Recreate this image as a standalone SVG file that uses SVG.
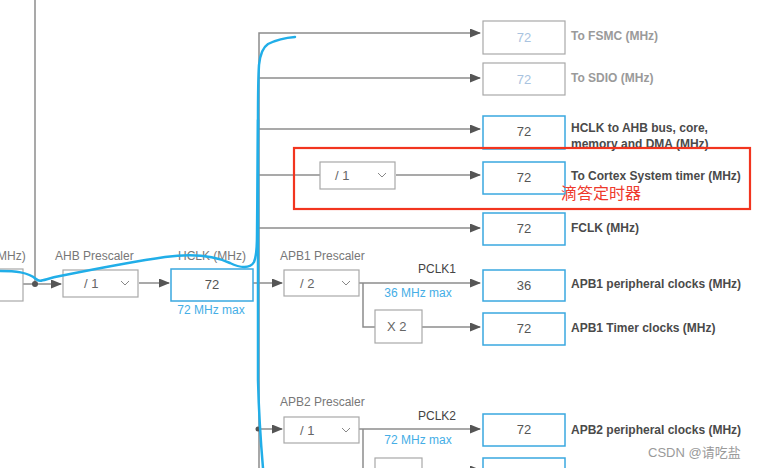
<svg xmlns="http://www.w3.org/2000/svg" width="763" height="468" viewBox="0 0 763 468">
<style>
.ln{fill:none;stroke:#8c8c8c;stroke-width:1.5}
.bx{fill:#fff;stroke:#a8a8a8;stroke-width:1.2}
.bb{fill:#fff;stroke:#3aa8e0;stroke-width:1.5}
.val{font-family:"Liberation Sans",Arial,sans-serif;font-size:13px;fill:#555;text-anchor:middle}
.dim{fill:#a9c3e0}
.lbl{font-family:"Liberation Sans",Arial,sans-serif;font-size:12px;font-weight:bold;fill:#4a4a4a}
.lg{fill:#9a9a9a}
.pre{font-family:"Liberation Sans",Arial,sans-serif;font-size:12px;fill:#777}
.sel{font-family:"Liberation Sans",Arial,sans-serif;font-size:13px;fill:#666}
.blue{font-family:"Liberation Sans",Arial,sans-serif;font-size:12px;fill:#45aee6;text-anchor:middle}
.pc{font-family:"Liberation Sans",Arial,sans-serif;font-size:12px;fill:#444}
.chev{fill:none;stroke:#888;stroke-width:1}
</style>
<defs>
<marker id="ah" markerWidth="11" markerHeight="9" refX="10" refY="4.5" orient="auto" markerUnits="userSpaceOnUse">
<path d="M0,0 L11,4.5 L0,9 z" fill="#555"/>
</marker>
</defs>
<g id="connectors">
<line class="ln" x1="35" y1="0" x2="35" y2="284"/>
<line class="ln" x1="23" y1="284" x2="61" y2="284" marker-end="url(#ah)"/>
<circle cx="35" cy="284" r="3" fill="#555"/>
<line class="ln" x1="139" y1="283" x2="169" y2="283" marker-end="url(#ah)"/>
<line class="ln" x1="253" y1="283" x2="282" y2="283" marker-end="url(#ah)"/>
<polyline class="ln" points="259,468 259,33 480,33" marker-end="url(#ah)"/>
<line class="ln" x1="259" y1="78" x2="480" y2="78" marker-end="url(#ah)"/>
<line class="ln" x1="259" y1="129" x2="480" y2="129" marker-end="url(#ah)"/>
<line class="ln" x1="259" y1="175" x2="320" y2="175"/>
<line class="ln" x1="396" y1="175" x2="480" y2="175" marker-end="url(#ah)"/>
<line class="ln" x1="259" y1="228" x2="480" y2="228" marker-end="url(#ah)"/>
<line class="ln" x1="359" y1="283" x2="480" y2="283" marker-end="url(#ah)"/>
<polyline class="ln" points="363,283 363,327 375,327"/>
<line class="ln" x1="422" y1="327" x2="480" y2="327" marker-end="url(#ah)"/>
<line class="ln" x1="259" y1="429" x2="282" y2="429" marker-end="url(#ah)"/>
<circle cx="258" cy="429" r="2.5" fill="#555"/>
<line class="ln" x1="359" y1="429" x2="480" y2="429" marker-end="url(#ah)"/>
<polyline class="ln" points="363,429 363,468"/>
<line class="ln" x1="422" y1="470" x2="480" y2="470" marker-end="url(#ah)"/>
</g>
<g id="input">
<rect class="bx" x="-5" y="269" width="28" height="32"/>
<text class="pre" x="-3" y="260">MHz)</text>
</g>
<g id="ahb-prescaler">
<text class="pre" x="55" y="260">AHB Prescaler</text>
<rect class="bx" x="63" y="270" width="75" height="27"/>
<text class="sel" x="84" y="288">/ 1</text>
<polyline class="chev" points="121,281 125,285 129,281"/>
</g>
<g id="hclk">
<text class="pre" x="178" y="260">HCLK (MHz)</text>
<rect class="bb" x="171" y="269" width="82" height="32"/>
<text class="val" x="212" y="289">72</text>
<text class="blue" x="211" y="314">72 MHz max</text>
</g>
<g id="fsmc">
<rect class="bx" x="483" y="21" width="82" height="33"/>
<text class="val dim" x="524" y="42">72</text>
<text class="lbl lg" x="571" y="40">To FSMC (MHz)</text>
</g>
<g id="sdio">
<rect class="bx" x="483" y="63" width="82" height="32"/>
<text class="val dim" x="524" y="84">72</text>
<text class="lbl lg" x="571" y="82">To SDIO (MHz)</text>
</g>
<g id="hclk-ahb">
<rect class="bb" x="483" y="116" width="82" height="33"/>
<text class="val" x="524" y="136">72</text>
<text class="lbl" x="571" y="132">HCLK to AHB bus, core,</text>
<text class="lbl" x="571" y="148">memory and DMA (MHz)</text>
</g>
<g id="cortex">
<rect class="bx" x="320" y="162" width="75" height="27"/>
<text class="sel" x="335" y="180">/ 1</text>
<polyline class="chev" points="378,173 382,177 386,173"/>
<rect class="bb" x="483" y="162" width="82" height="32"/>
<text class="val" x="524" y="182">72</text>
<text class="lbl" x="571" y="180">To Cortex System timer (MHz)</text>
<text x="561" y="199" font-family="'Noto Sans CJK SC',sans-serif" font-size="16" fill="#ee3a2c">滴答定时器</text>
<rect x="294" y="148" width="456" height="61" fill="none" stroke="#f2351f" stroke-width="2.2"/>
</g>
<g id="fclk">
<rect class="bb" x="483" y="213" width="82" height="32"/>
<text class="val" x="524" y="233">72</text>
<text class="lbl" x="571" y="232">FCLK (MHz)</text>
</g>
<g id="apb1">
<text class="pre" x="280" y="260">APB1 Prescaler</text>
<rect class="bx" x="284" y="270" width="75" height="26"/>
<text class="sel" x="300" y="288">/ 2</text>
<polyline class="chev" points="342,281 346,285 350,281"/>
<text class="pc" x="418" y="273">PCLK1</text>
<text class="blue" x="418" y="297">36 MHz max</text>
<rect class="bb" x="483" y="270" width="82" height="31"/>
<text class="val" x="524" y="290">36</text>
<text class="lbl" x="571" y="288">APB1 peripheral clocks (MHz)</text>
</g>
<g id="apb1-timer">
<rect class="bx" x="375" y="310" width="47" height="33"/>
<text class="sel" x="387" y="331">X 2</text>
<rect class="bb" x="483" y="313" width="82" height="32"/>
<text class="val" x="524" y="333">72</text>
<text class="lbl" x="571" y="332">APB1 Timer clocks (MHz)</text>
</g>
<g id="apb2">
<text class="pre" x="280" y="406">APB2 Prescaler</text>
<rect class="bx" x="284" y="417" width="75" height="26"/>
<text class="sel" x="300" y="435">/ 1</text>
<polyline class="chev" points="342,428 346,432 350,428"/>
<text class="pc" x="418" y="420">PCLK2</text>
<text class="blue" x="418" y="444">72 MHz max</text>
<rect class="bb" x="483" y="414" width="82" height="32"/>
<text class="val" x="524" y="434">72</text>
<text class="lbl" x="571" y="434">APB2 peripheral clocks (MHz)</text>
</g>
<g id="apb2-timer">
<rect class="bx" x="375" y="458" width="47" height="20"/>
<rect class="bb" x="483" y="458" width="82" height="20"/>
<text class="lbl" x="571" y="477">APB2 timer clocks (MHz)</text>
</g>
<g id="annotation">
<path d="M0,271 C15,271 28,272 36,279 C40,283 44,279 60,276 C90,270 130,262 165,257 C195,253 215,256 230,263 C240,268 250,269 254,262 C257,255 257,245 257,235 L258,120 C258,100 258,80 259,65 C260,55 262,48 268,44 C276,40 282,38 295,37" fill="none" stroke="#21aee8" stroke-width="2.5" stroke-linecap="round" stroke-linejoin="round"/>
<path d="M258,120 L258,380 C259,420 261,445 263,468" fill="none" stroke="#21aee8" stroke-width="2.5" stroke-linecap="round"/>
</g>
<g id="watermark">
<text x="648" y="457" font-family="'Liberation Sans','Noto Sans CJK SC',sans-serif" font-size="13" fill="#9a9a9a">CSDN @请吃盐</text>
</g>
</svg>
